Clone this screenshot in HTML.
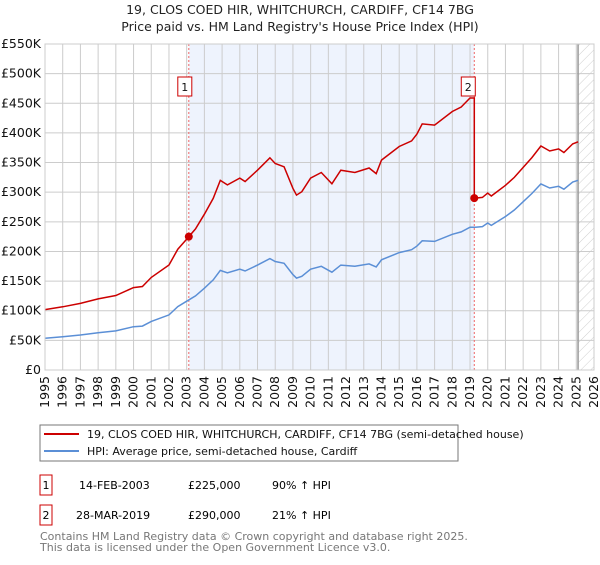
<!DOCTYPE html>
<html><head><meta charset="utf-8"><style>
body{margin:0;background:#fff;font-family:"Liberation Sans","DejaVu Sans",sans-serif;}
svg text{font-family:"DejaVu Sans","Liberation Sans",sans-serif;}
</style></head><body>
<svg id="c" width="600" height="560" xmlns="http://www.w3.org/2000/svg">
<defs><pattern id="hatch" width="7" height="7" patternUnits="userSpaceOnUse" patternTransform="rotate(45)"><line x1="0" y1="0" x2="0" y2="7" stroke="#d0d0d0" stroke-width="1"/></pattern></defs>
<text x="300" y="14" text-anchor="middle" font-size="12.5" fill="#222">19, CLOS COED HIR, WHITCHURCH, CARDIFF, CF14 7BG</text>
<text x="300" y="31" text-anchor="middle" font-size="12.5" fill="#222">Price paid vs. HM Land Registry's House Price Index (HPI)</text>
<g id="plot"></g>
<rect x="40" y="425" width="418" height="36" fill="#fff" stroke="#777"/>
<line x1="44" y1="434" x2="79" y2="434" stroke="#cc0000" stroke-width="2"/>
<text x="87" y="438" font-size="11" fill="#111">19, CLOS COED HIR, WHITCHURCH, CARDIFF, CF14 7BG (semi-detached house)</text>
<line x1="44" y1="451" x2="79" y2="451" stroke="#5b8fd6" stroke-width="2"/>
<text x="87" y="455" font-size="11" fill="#111">HPI: Average price, semi-detached house, Cardiff</text>
<rect x="40" y="475" width="12" height="20" fill="#fff" stroke="#cc0000"/>
<text x="46" y="489" text-anchor="middle" font-size="11">1</text>
<text x="79" y="489" font-size="11">14-FEB-2003</text>
<text x="188" y="489" font-size="11">£225,000</text>
<text x="272" y="489" font-size="11">90% ↑ HPI</text>
<rect x="40" y="505" width="12" height="20" fill="#fff" stroke="#cc0000"/>
<text x="46" y="519" text-anchor="middle" font-size="11">2</text>
<text x="76" y="519" font-size="11">28-MAR-2019</text>
<text x="188" y="519" font-size="11">£290,000</text>
<text x="272" y="519" font-size="11">21% ↑ HPI</text>
<text x="40" y="540" font-size="11" fill="#777">Contains HM Land Registry data © Crown copyright and database right 2025.</text>
<text x="40" y="551" font-size="11" fill="#777">This data is licensed under the Open Government Licence v3.0.</text>
</svg>
<script>
const yTicks=[0,50,100,150,200,250,300,350,400,450,500,550];
const years=[1995,1996,1997,1998,1999,2000,2001,2002,2003,2004,2005,2006,2007,2008,2009,2010,2011,2012,2013,2014,2015,2016,2017,2018,2019,2020,2021,2022,2023,2024,2025,2026];
const hpiT=[1995,1996,1997,1998,1999,2000,2000.5,2001,2002,2002.5,2003,2003.5,2004,2004.5,2004.9,2005.3,2006,2006.3,2007,2007.7,2008,2008.5,2009,2009.2,2009.5,2010,2010.6,2011.2,2011.7,2012.5,2013.3,2013.7,2014,2015,2015.7,2016,2016.3,2017,2018,2018.5,2019,2019.3,2019.7,2020,2020.2,2021,2021.5,2022,2022.5,2023,2023.5,2024,2024.3,2024.8,2025.1];
const hpiV=[53.5,56,59,63,66,73,74,82,93,107,116,125,138,152,168,164,170,167,177,188,183,180,161,155,158,170,175,165,177,175,179,174,186,198,203,209,218,217,229,233,241,241,242,248,244,259,270,284,298,314,307,310,305,317,320];
const saleT=[2003.12,2019.24];
const saleV=[225,290];
const X0=45,X1=594,Y0=370,Y1=44;
const x=t=>X0+(t-1995)*(X1-X0)/31;
const y=v=>Y0-v*(Y0-Y1)/550;
const g=document.getElementById('plot');
const NS='http://www.w3.org/2000/svg';
function mk(tag,attrs){const e=document.createElementNS(NS,tag);for(const k in attrs)e.setAttribute(k,attrs[k]);g.appendChild(e);return e;}
function hpiAt(t){for(let i=0;i<hpiT.length-1;i++){if(t<=hpiT[i+1]){const f=(t-hpiT[i])/(hpiT[i+1]-hpiT[i]);return hpiV[i]+f*(hpiV[i+1]-hpiV[i]);}}return hpiV[hpiV.length-1];}
let e;
e=mk('rect',{x:x(saleT[0]),y:Y1,width:x(saleT[1])-x(saleT[0]),height:Y0-Y1,fill:'#eef3fd'});


e=mk('rect',{x:x(2025.1),y:Y1,width:X1-x(2025.1),height:Y0-Y1,fill:'url(#hatch)'});


yTicks.forEach(v=>{
 e=mk('line',{x1:X0,x2:X1,y1:y(v),y2:y(v),stroke:'#ccc'});
 
 
 e=mk('text',{x:X0-4,y:y(v)+4,'text-anchor':'end','font-size':'12.5',fill:'#111'});
 e.textContent=v===0?'£0':'£'+v+'K';
 
 
});
years.forEach(yr=>{
 e=mk('line',{x1:x(yr),x2:x(yr),y1:Y1,y2:Y0,stroke:'#ccc'});
 
 
 e=mk('text',{x:0,y:0,'text-anchor':'end','font-size':'12.5',fill:'#111',transform:`translate(${x(yr)+4},${Y0+6}) rotate(-90)`});
 e.textContent=yr;
 
 
});
e=mk('line',{x1:x(2025.1),x2:x(2025.1),y1:Y1,y2:Y0,stroke:'#999','stroke-width':1.5});


saleT.forEach((t,i)=>{
 e=mk('line',{x1:x(t),x2:x(t),y1:Y1,y2:Y0,stroke:'#ee6666','stroke-dasharray':'2,2'});
 
 
});
let d=hpiT.map((t,i)=>(i?'L':'M')+x(t).toFixed(1)+','+y(hpiV[i]).toFixed(1)).join('');
e=mk('path',{d:d,fill:'none',stroke:'#5b8fd6','stroke-width':1.5});


const f1=saleV[0]/hpiAt(saleT[0]),f2=saleV[1]/hpiAt(saleT[1]);
let pts=[];
hpiT.forEach((t,i)=>{if(t<saleT[1])pts.push([t,hpiV[i]*f1]);});
pts.push([saleT[1],hpiAt(saleT[1])*f1]);
pts.push([saleT[1],saleV[1]]);
hpiT.forEach((t,i)=>{if(t>saleT[1])pts.push([t,hpiV[i]*f2]);});
d=pts.map((p,i)=>(i?'L':'M')+x(p[0]).toFixed(1)+','+y(p[1]).toFixed(1)).join('');
e=mk('path',{d:d,fill:'none',stroke:'#cc0000','stroke-width':1.5});


saleT.forEach((t,i)=>{
 e=mk('circle',{cx:x(t),cy:y(saleV[i]),r:4,fill:'#cc0000'});
 
 
 e=mk('rect',{x:x(t)-11+(i?-2:0),y:77,width:14,height:19,fill:'#fff',stroke:'#cc0000'});
 
 
 e=mk('text',{x:x(t)-4+(i?-2:0),y:91,'text-anchor':'middle','font-size':'11',fill:'#111'});
 e.textContent=String(i+1);
 
 
});
e=mk('rect',{x:X0,y:Y1,width:X1-X0,height:Y0-Y1,fill:'none',stroke:'#ccc'});


</script>
</body></html>
